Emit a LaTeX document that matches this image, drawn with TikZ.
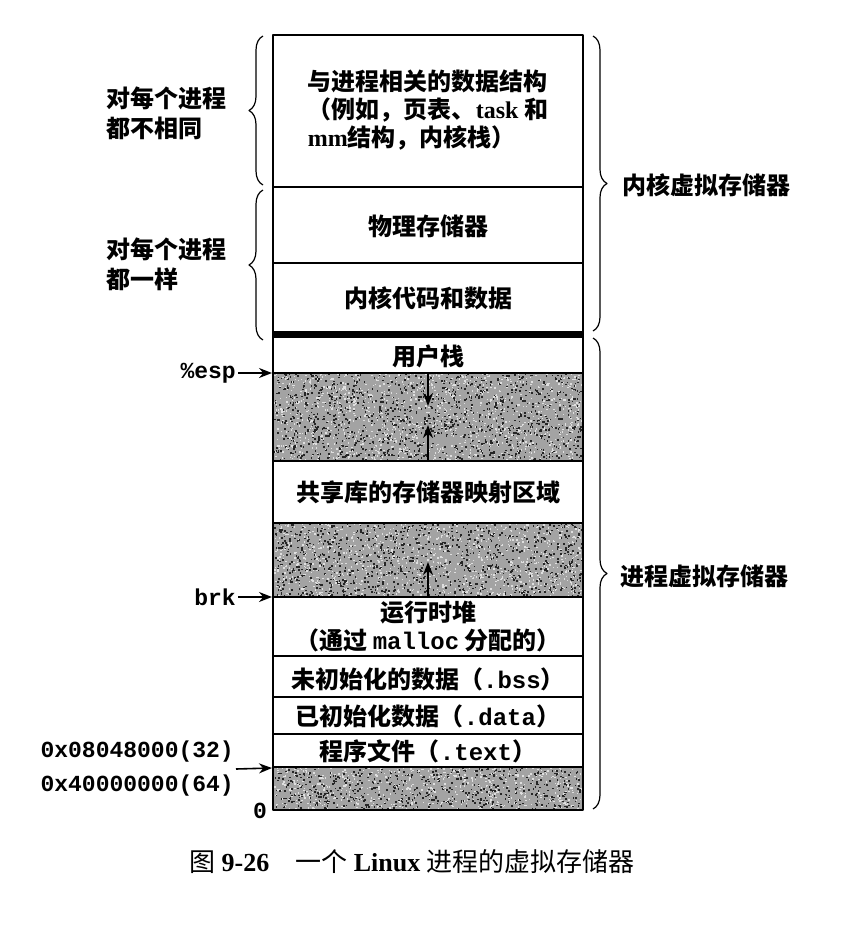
\documentclass[tikz,border=0pt]{standalone}
\usepackage{fontspec}
\setmainfont{Liberation Serif}
\setmonofont{Liberation Mono}
\newfontfamily\cjk{Noto Sans CJK SC}
\usetikzlibrary{decorations.pathreplacing,arrows.meta}

\tikzset{
	seg/.style={font=\fontsize{24}{28}\selectfont\cjk\bfseries, inner sep=0pt},
	side/.style={font=\fontsize{24}{30}\selectfont\cjk\bfseries, inner sep=0pt, align=left},
	addr/.style={font=\fontsize{23}{34}\selectfont\ttfamily\bfseries, inner sep=2pt, align=left},
	wall/.style={line width=2pt},
	growarrow/.style={-{Stealth[length=13pt,width=10pt]}, line width=1.8pt},
	pointer/.style={-{Stealth[length=13pt,width=10pt]}, line width=1.6pt},
	curly/.style={decorate, decoration={brace, amplitude=14pt}, line width=1.2pt}
}

% grey speckled area between y=#1 and y=#2
\newcommand{\speckle}[2]{
	\fill[gray!72] (273,#1) rectangle (583,#2);
	\pgfmathtruncatemacro{\ndots}{(#2-#1)*14}
	\foreach \i in {1,...,\ndots}{
		\pgfmathsetmacro{\px}{274+rnd*307}
		\pgfmathsetmacro{\py}{#1+rnd*(#2-#1-1)}
		\fill[white!75!gray] (\px,\py) rectangle ++(1.4,1.4);
		\pgfmathsetmacro{\qx}{274+rnd*307}
		\pgfmathsetmacro{\qy}{#1+rnd*(#2-#1-1)}
		\fill[black!85] (\qx,\qy) rectangle ++(1.6,1.6);
	}
}

\begin{document}
\begin{tikzpicture}[x=1pt, y=-1pt, line join=round]
	\useasboundingbox (0,0) rectangle (842,938);
	\pgfmathsetseed{26}
	\speckle{373}{461}
	\speckle{523}{597}
	\speckle{767}{810}
	% the column
	\draw[wall] (273,35) rectangle (583,810);
	\foreach \y in {187,263,373,461,523,597,656,697,734,767}
	\draw[wall] (273,\y)--(583,\y);
	\fill (273,331) rectangle (583,338);
	% kernel part
	\node[seg, align=left] (kdata) at (428,110) {与进程相关的数据结构\\（例如，页表、{\rmfamily task} 和\\{\rmfamily mm}结构，内核栈）};
	\node[seg] (phys) at (428,226) {物理存储器};
	\node[seg] (kcode) at (428,298) {内核代码和数据};
	% process part
	\node[seg] (ustack) at (428,356) {用户栈};
	\node[seg] (shlib) at (428,492) {共享库的存储器映射区域};
	\node[seg, align=center] (heap) at (428,626) {运行时堆\\（通过 {\ttfamily malloc} 分配的）};
	\node[seg] (bss) at (428,679) {未初始化的数据（{\ttfamily .bss}）};
	\node[seg] (data) at (428,716) {已初始化数据（{\ttfamily .data}）};
	\node[seg] (text) at (428,751) {程序文件（{\ttfamily .text}）};
	% growth arrows
	\coordinate (stacktop) at (428,373);
	\coordinate (stackend) at (428,406);
	\coordinate (libbot) at (428,461);
	\coordinate (libend) at (428,425);
	\coordinate (heaptop) at (428,597);
	\coordinate (heapend) at (428,562);
	\draw[growarrow] (stacktop)--(stackend);
	\draw[growarrow] (libbot)--(libend);
	\draw[growarrow] (heaptop)--(heapend);
	% pointers on the left
	\coordinate (espat) at (272,373);
	\coordinate (brkat) at (272,597);
	\coordinate (textat) at (272,768);
	\node[addr, anchor=east] (esp) at (238,373) {\%esp};
	\node[addr, anchor=east] (brk) at (238,597) {brk};
	\node[addr, anchor=east] (start) at (236,769) {0x08048000(32)\\0x40000000(64)};
	\node[addr, anchor=east, inner sep=1pt] (zero) at (268,811) {0};
	\draw[pointer] (esp.east)--(espat);
	\draw[pointer] (brk.east)--(brkat);
	\draw[pointer] (start.east)--(textat);
	% braces on the left
	\draw[curly] (263,185)--(263,36);
	\draw[curly] (263,340)--(263,190);
	\node[side, anchor=west] (differ) at (106,113) {对每个进程\\都不相同};
	\node[side, anchor=west] (same) at (106,264) {对每个进程\\都一样};
	% braces on the right
	\draw[curly] (593,36)--(593,331);
	\draw[curly] (593,338)--(593,809);
	\node[seg, anchor=west] (kvm) at (622,185) {内核虚拟存储器};
	\node[seg, anchor=west] (pvm) at (620,576) {进程虚拟存储器};
	% caption
	\node[font=\fontsize{26}{30}\selectfont, inner sep=0pt] (caption) at (412,862) {{\cjk 图} \textbf{9-26}\quad{\cjk 一个} \textbf{Linux} {\cjk 进程的虚拟存储器}};
\end{tikzpicture}
\end{document}
